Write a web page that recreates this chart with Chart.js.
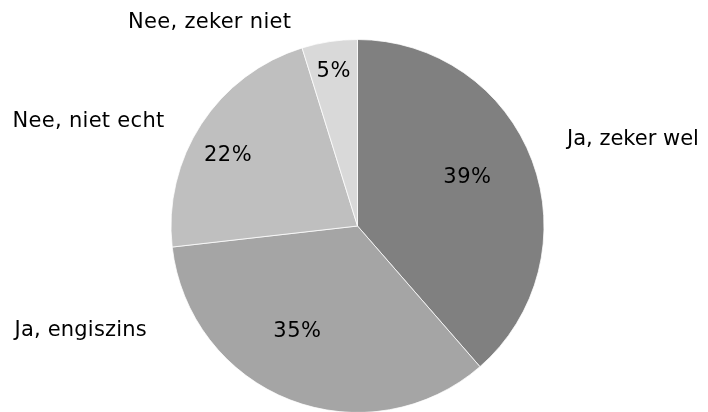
<!DOCTYPE html>
<html>
<head>
<meta charset="utf-8">
<script src="https://cdn.jsdelivr.net/npm/chart.js@4"></script>
<style>
  html, body { margin: 0; padding: 0; background: #fff; }
  #wrap { width: 708px; height: 412px; overflow: hidden; position: relative; }
  canvas { display: block; }
</style>
</head>
<body>
<div id="wrap"><canvas id="c" width="708" height="452"></canvas></div>
<script>
// ---- data ----
const categories = ["Ja, zeker wel", "Ja, engiszins", "Nee, niet echt", "Nee, zeker niet"];
const shares = [38.6, 34.6, 22.0, 4.8];
const shareLabels = ["39%", "35%", "22%", "5%"];
const sliceColors = ["#808080", "#a5a5a5", "#bfbfbf", "#d9d9d9"];

// ---- label placement (styling, not data) ----
const FONT = "21px 'DejaVu Sans', Verdana, sans-serif";
// percentage labels: [radius fraction, angle shift in degrees]
const pctPlacement = [[0.65, -4.4], [0.64, 9.0], [0.797, -3.7], [0.848, 0]];
// category labels: offsets (px) of left/baseline from pie centre, letter spacing
const catPlacement = [[209.5, -81, 0], [-343, 110, 0.2], [-345, -99, 0.3], [-229.5, -197.7, 0.3]];

const labelPlugin = {
  id: 'pieLabels',
  afterDatasetsDraw(chart) {
    const ctx = chart.ctx;
    const meta = chart.getDatasetMeta(0);
    ctx.save();
    ctx.font = FONT;
    ctx.fillStyle = '#000';
    meta.data.forEach((arc, i) => {
      const p = arc.getProps(['x', 'y', 'startAngle', 'endAngle', 'outerRadius'], true);
      const [frac, shift] = pctPlacement[i];
      const mid = (p.startAngle + p.endAngle) / 2 + shift * Math.PI / 180;
      const r = frac * p.outerRadius;
      const x = p.x + Math.cos(mid) * r;
      const y = p.y + Math.sin(mid) * r;
      ctx.letterSpacing = '0.5px';
      ctx.textAlign = 'center';
      ctx.textBaseline = 'alphabetic';
      ctx.fillText(shareLabels[i], x, y + 7.65);
      const [dx, dy, ls] = catPlacement[i];
      ctx.letterSpacing = ls + 'px';
      ctx.textAlign = 'left';
      ctx.fillText(chart.data.labels[i], p.x + dx, p.y + dy);
    });
    ctx.restore();
  }
};

new Chart(document.getElementById('c'), {
  type: 'pie',
  data: {
    labels: categories,
    datasets: [{
      data: shares,
      backgroundColor: sliceColors,
      borderColor: '#ffffff',
      borderWidth: 0.75,
      radius: 186.5
    }]
  },
  options: {
    responsive: false,
    animation: false,
    layout: { padding: { left: 7, right: 0, top: 0, bottom: 0 } },
    plugins: {
      legend: { display: false },
      tooltip: { enabled: false }
    }
  },
  plugins: [labelPlugin]
});
</script>
</body>
</html>
